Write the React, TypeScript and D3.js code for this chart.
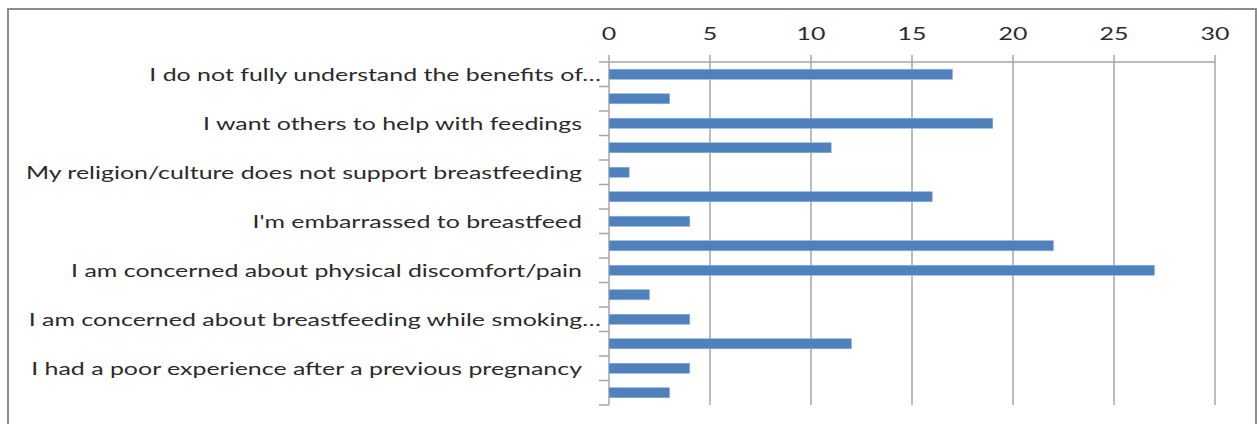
import React from "react";
import * as d3 from "d3";

const categories: string[] = [
  "I do not fully understand the benefits of…",
  "",
  "I want others to help with feedings",
  "",
  "My religion/culture does not support breastfeeding",
  "",
  "I'm embarrassed to breastfeed",
  "",
  "I am concerned about physical discomfort/pain",
  "",
  "I am concerned about breastfeeding while smoking…",
  "",
  "I had a poor experience after a previous pregnancy",
  "",
];
const values: number[] = [17, 3, 19, 11, 1, 16, 4, 22, 27, 2, 4, 12, 4, 3];
const xTicks: number[] = [0, 5, 10, 15, 20, 25, 30];

const W = 1257;
const H = 424;
const left = 609;
const right = 1215;
const top = 62;
const bottom = 405;
const stretch = 1.385;

export default function App() {
  const x = d3.scaleLinear().domain([0, 30]).range([left, right]);
  const ids = categories.map((_, i) => String(i));
  const y = d3.scaleBand<string>().domain(ids).range([top, bottom]).paddingInner(0).paddingOuter(0);
  const bw = y.bandwidth();
  const barH = bw * 0.41;
  const grid = "#a6a6a6";
  const font = "Lato, 'Open Sans', sans-serif";
  const boundaries = d3.range(categories.length + 1).map((i) => top + i * bw);

  return (
    <svg width={W} height={H} style={{ position: "absolute", left: 0, top: 0 }} fontFamily={font}>
      <rect x={0} y={0} width={W} height={H} fill="#ffffff" />
      <rect x={8} y={9} width={1248} height={H + 20} fill="none" stroke="#8c8c8c" strokeWidth={2} />
      {xTicks.map((t) => (
        <line key={"g" + t} x1={x(t)} x2={x(t)} y1={top - 7} y2={bottom} stroke={grid} strokeWidth={1.5} />
      ))}
      <line x1={left} x2={right} y1={top} y2={top} stroke={grid} strokeWidth={1.5} />
      {boundaries.map((b, i) => (
        <line key={"c" + i} x1={left - 10} x2={left} y1={b} y2={b} stroke={grid} strokeWidth={1.5} />
      ))}
      {values.map((v, i) => (
        <rect
          key={"b" + i}
          x={x(0)}
          y={(y(String(i)) as number) + (bw - barH) / 2}
          width={x(v) - x(0)}
          height={barH}
          fill="#4f81bd"
          stroke="#8eb0d8"
          strokeWidth={0.6}
        />
      ))}
      {xTicks.map((t) => (
        <g key={"t" + t} transform={`translate(${x(t)},40) scale(${stretch},1)`}>
          <text textAnchor="middle" fontSize={18} fill="#2b2b2b">
            {t}
          </text>
        </g>
      ))}
      {categories.map((c, i) =>
        c ? (
          <g
            key={"l" + i}
            transform={`translate(${c.endsWith("…") ? 601 : 582},${(y(String(i)) as number) + bw / 2}) scale(${stretch},1)`}
          >
            <text dy="0.35em" textAnchor="end" fontSize={18} fill="#2b2b2b">
              {c}
            </text>
          </g>
        ) : null
      )}
    </svg>
  );
}
